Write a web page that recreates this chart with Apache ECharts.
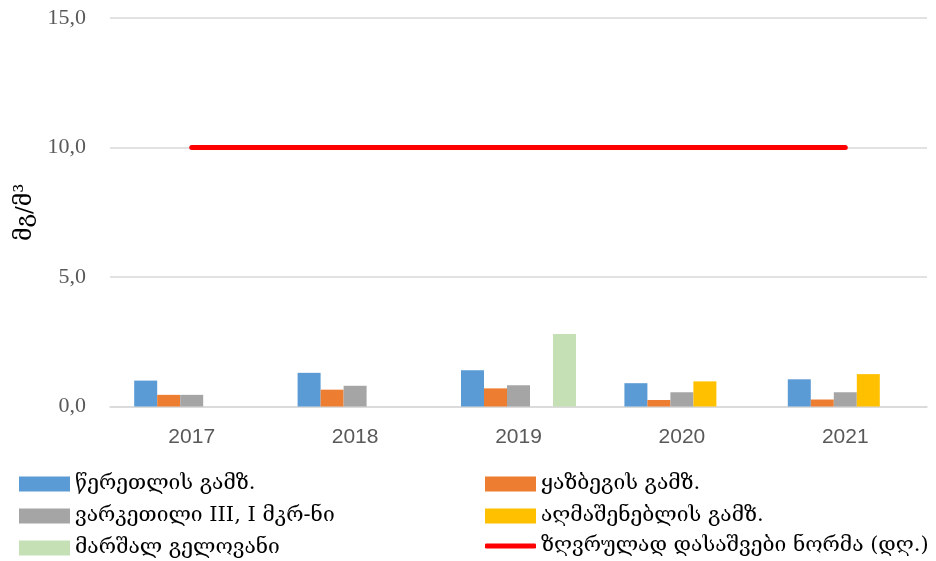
<!DOCTYPE html>
<html>
<head>
<meta charset="utf-8">
<script src="https://cdn.jsdelivr.net/npm/echarts@6/dist/echarts.min.js"></script>
<style>
html,body{margin:0;padding:0;background:#fff;}
#chart{width:936px;height:561px;}
</style>
</head>
<body>
<div id="chart"></div>
<script>
var years = ['2017', '2018', '2019', '2020', '2021'];
var tsereteli = [1.0, 1.3, 1.4, 0.9, 1.05];
var kazbegi = [0.45, 0.65, 0.7, 0.25, 0.27];
var varketili = [0.45, 0.8, 0.82, 0.55, 0.55];
var aghmashenebeli = [null, null, null, 0.97, 1.25];
var gelovani = [null, null, 2.8, null, null];
var norma = [10, 10, 10, 10, 10];
var yTicks = [0, 5, 10, 15];

var geoFont = "'DejaVu Serif', 'DejaVu Sans', serif";

var chart = echarts.init(document.getElementById('chart'));

function bar(name, color, data) {
    return {
        name: name,
        type: 'bar',
        barWidth: 23,
        barGap: '0%',
        itemStyle: { color: color },
        data: data
    };
}

function legendBox(left, top, names, h, icon) {
    return {
        orient: 'vertical',
        left: left,
        top: top,
        height: 200,
        padding: 0,
        icon: icon,
        itemWidth: 51,
        itemHeight: h,
        itemGap: 11,
        textStyle: { fontFamily: geoFont, fontSize: 21, color: '#000', lineHeight: 20 },
        data: names
    };
}

var leftCol = legendBox(19, 473.5, ['წერეთლის გამზ.', 'ვარკეთილი III, I მკრ-ნი', 'მარშალ გელოვანი'], 15, 'rect');
var rightCol = legendBox(485, 473.5, ['ყაზბეგის გამზ.', 'აღმაშენებლის გამზ.'], 15, 'rect');
var normaLeg = legendBox(485, 535.5, ['ზღვრულად დასაშვები ნორმა (დღ.)'], 5, 'roundRect');

var option = {
    animation: false,
    grid: {
        left: 110,
        right: 9,
        top: 18,
        bottom: 154.5
    },
    legend: [leftCol, rightCol, normaLeg],
    xAxis: {
        type: 'category',
        data: years,
        axisLine: { lineStyle: { color: '#d9d9d9', width: 1.5 } },
        axisTick: { show: false },
        axisLabel: {
            margin: 20,
            fontFamily: "'Liberation Sans', sans-serif",
            fontSize: 21,
            color: '#595959'
        }
    },
    yAxis: {
        type: 'value',
        min: yTicks[0],
        max: yTicks[yTicks.length - 1],
        interval: 5,
        name: 'მგ/მ³',
        nameLocation: 'middle',
        nameGap: 73,
        nameTextStyle: { fontFamily: geoFont, fontSize: 23, color: '#000' },
        axisLine: { show: false },
        axisTick: { show: false },
        splitLine: { lineStyle: { color: '#d9d9d9', width: 1.5 } },
        axisLabel: {
            margin: 24,
            fontFamily: "'Liberation Serif', serif",
            fontSize: 22,
            color: '#595959',
            formatter: function (v) { return v.toFixed(1).replace('.', ','); }
        }
    },
    series: [
        bar('წერეთლის გამზ.', '#5b9bd5', tsereteli),
        bar('ყაზბეგის გამზ.', '#ed7d31', kazbegi),
        bar('ვარკეთილი III, I მკრ-ნი', '#a5a5a5', varketili),
        bar('აღმაშენებლის გამზ.', '#ffc000', aghmashenebeli),
        bar('მარშალ გელოვანი', '#c5e0b4', gelovani),
        {
            name: 'ზღვრულად დასაშვები ნორმა (დღ.)',
            type: 'line',
            symbol: 'none',
            lineStyle: { color: '#ff0000', width: 5, cap: 'round' },
            itemStyle: { color: '#ff0000' },
            data: norma
        }
    ]
};

chart.setOption(option);
window.onresize = chart.resize;
</script>
</body>
</html>
